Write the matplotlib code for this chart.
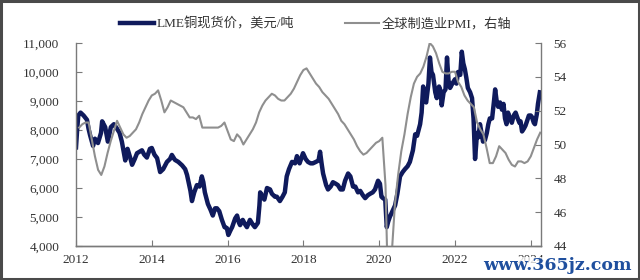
import matplotlib
matplotlib.use("Agg")
import matplotlib.pyplot as plt
from matplotlib.patches import Rectangle

# ---------------- data ----------------
copper_dates = [
    2012.00, 2012.03, 2012.06, 2012.12, 2012.20, 2012.29, 2012.33, 2012.37, 2012.45, 2012.50,
    2012.58, 2012.66, 2012.69, 2012.77, 2012.84, 2012.92, 2013.00, 2013.08, 2013.15, 2013.21,
    2013.30, 2013.36, 2013.44, 2013.48, 2013.55, 2013.61, 2013.74, 2013.80, 2013.87, 2013.95,
    2014.00, 2014.07, 2014.14, 2014.22, 2014.30, 2014.40, 2014.48, 2014.53, 2014.61, 2014.70,
    2014.80, 2014.88, 2014.93, 2015.02, 2015.06, 2015.12, 2015.19, 2015.26, 2015.32, 2015.36,
    2015.40, 2015.48, 2015.55, 2015.61, 2015.67, 2015.72, 2015.78, 2015.85, 2015.92, 2015.98,
    2016.02, 2016.08, 2016.12, 2016.20, 2016.25, 2016.30, 2016.33, 2016.40, 2016.46, 2016.51,
    2016.59, 2016.66, 2016.72, 2016.80, 2016.84, 2016.86, 2016.92, 2016.97, 2017.04, 2017.12,
    2017.17, 2017.25, 2017.30, 2017.38, 2017.45, 2017.51, 2017.56, 2017.62, 2017.70, 2017.78,
    2017.83, 2017.90, 2017.99, 2018.06, 2018.12, 2018.19, 2018.25, 2018.33, 2018.40, 2018.44,
    2018.48, 2018.52, 2018.60, 2018.65, 2018.72, 2018.78, 2018.85, 2018.91, 2018.98, 2019.04,
    2019.10, 2019.18, 2019.24, 2019.31, 2019.37, 2019.44, 2019.50, 2019.57, 2019.63, 2019.70,
    2019.76, 2019.83, 2019.89, 2019.97, 2020.02, 2020.06, 2020.10, 2020.16, 2020.20, 2020.24,
    2020.28, 2020.35, 2020.42, 2020.48, 2020.55, 2020.62, 2020.68, 2020.75, 2020.81, 2020.89,
    2020.95, 2021.00, 2021.08, 2021.12, 2021.16, 2021.20, 2021.24, 2021.30, 2021.34, 2021.38,
    2021.42, 2021.48, 2021.52, 2021.58, 2021.62, 2021.65, 2021.70, 2021.75, 2021.79, 2021.83,
    2021.87, 2021.93, 2022.00, 2022.04, 2022.08, 2022.14, 2022.18, 2022.22, 2022.26, 2022.30,
    2022.34, 2022.40, 2022.45, 2022.49, 2022.53, 2022.56, 2022.58, 2022.62, 2022.66, 2022.70,
    2022.74, 2022.79, 2022.84, 2022.88, 2022.92, 2022.98, 2023.03, 2023.06, 2023.10, 2023.14,
    2023.19, 2023.24, 2023.28, 2023.32, 2023.36, 2023.40, 2023.45, 2023.50, 2023.55, 2023.60,
    2023.64, 2023.70, 2023.73, 2023.77, 2023.82, 2023.86, 2023.90, 2023.95, 2024.00, 2024.03,
    2024.08, 2024.11, 2024.16, 2024.19, 2024.24,
]
copper_values = [
    7400, 8000, 8500, 8600, 8500, 8350, 8050, 7830, 7450, 7700,
    7550, 7900, 8300, 8100, 7600, 8100, 8200, 8050, 7900, 7600,
    6950, 7350, 7000, 6800, 7000, 7200, 7300, 7150, 7050, 7350,
    7380, 7150, 7030, 6550, 6650, 6900, 7000, 7140, 6970, 6900,
    6780, 6650, 6450, 5900, 5550, 5850, 6100, 6050, 6400, 6200,
    5850, 5450, 5250, 5050, 5300, 5300, 5200, 4900, 4650, 4620,
    4380, 4550, 4650, 4950, 5050, 4800, 4720, 4900, 4750, 4650,
    4900, 4750, 4650, 4800, 5400, 5850, 5700, 5600, 6000, 5950,
    5800, 5700, 5700, 5550, 5700, 5850, 6400, 6650, 6900, 6850,
    7100, 6850, 7200, 7000, 6900, 6850, 6850, 6900, 6950, 7250,
    6850, 6500, 6100, 5950, 6050, 6200, 6150, 6100, 5950, 5950,
    6250, 6500, 6400, 6050, 6050, 5850, 5900, 5750, 5650, 5750,
    5800, 5850, 5950, 6250, 6150, 5700, 5650, 5600, 4650, 4850,
    5000, 5200, 5400, 5800, 6400, 6550, 6650, 6750, 6900, 7300,
    7850, 7800, 8200, 8600, 9500, 9000, 8950, 9600, 10500, 10000,
    9900, 9300, 9100, 9500, 9350, 8850, 9300, 9400, 10500, 9700,
    9450, 9600, 9750, 9600, 10000, 9900, 10700, 10300, 10100, 9800,
    9450, 9300, 9100, 8400, 7000, 7500, 7900, 7750, 8200, 7900,
    7600, 7650, 7900, 8200, 8400, 8400, 9000, 9400, 9000, 8800,
    8950, 8700, 8900, 8400, 8200, 8600, 8400, 8250, 8500, 8600,
    8450, 8250, 8300, 7950, 8050, 8150, 8300, 8500, 8500, 8450,
    8250, 8200, 8550, 8900, 9300,
]

# Global manufacturing PMI, monthly, Jan 2012 - Mar 2024
pmi_start_year = 2012
pmi_values = [
    51.0, 51.2, 51.3, 51.3, 50.3, 49.3, 48.5, 48.2, 48.7, 49.5, 50.2, 50.8,   # 2012
    51.4, 51.0, 50.6, 50.4, 50.5, 50.7, 50.9, 51.3, 51.8, 52.2, 52.6, 52.9,   # 2013
    53.0, 53.2, 52.6, 51.9, 52.2, 52.6, 52.5, 52.4, 52.3, 52.2, 51.9, 51.6,   # 2014
    51.6, 51.5, 51.7, 51.0, 51.0, 51.0, 51.0, 51.0, 51.0, 51.1, 51.3, 50.8,   # 2015
    50.3, 50.2, 50.6, 50.4, 50.0, 50.3, 50.6, 50.9, 51.3, 51.9, 52.3, 52.6,   # 2016
    52.8, 53.0, 52.9, 52.7, 52.6, 52.6, 52.8, 53.0, 53.3, 53.7, 54.1, 54.4,   # 2017
    54.5, 54.2, 53.9, 53.6, 53.4, 53.1, 52.9, 52.7, 52.4, 52.1, 51.8, 51.4,   # 2018
    51.2, 50.9, 50.6, 50.3, 49.9, 49.6, 49.4, 49.5, 49.7, 49.9, 50.1, 50.2,   # 2019
    50.4, 47.6, 39.8, 43.6, 46.5, 48.2, 49.6, 50.6, 51.8, 52.8, 53.6, 54.0,   # 2020
    54.2, 54.6, 55.2, 56.0, 55.8, 55.4, 54.8, 54.3, 54.2, 54.2, 54.3, 54.3,   # 2021
    53.7, 53.4, 52.9, 52.6, 52.4, 52.2, 51.3, 50.9, 50.6, 49.8, 48.9, 48.9,   # 2022
    49.3, 49.9, 49.7, 49.5, 49.1, 48.8, 48.7, 49.0, 49.0, 48.9, 49.0, 49.3,   # 2023
    49.8, 50.3, 50.7,                                                         # 2024
]
pmi_dates = [pmi_start_year + (i + 1) / 12 for i in range(len(pmi_values))]

left_ticks = [4000, 5000, 6000, 7000, 8000, 9000, 10000, 11000]
right_ticks = [44, 46, 48, 50, 52, 54, 56]
year_ticks = [2012, 2014, 2016, 2018, 2020, 2022, 2024]

copper_label = "LME铜现货价，美元/吨"
pmi_label = "全球制造业PMI，右轴"

# ---------------- style ----------------
serif = ["Liberation Serif", "Noto Sans CJK SC", "DejaVu Sans"]
plt.rcParams["font.family"] = serif
navy = "#0f1a5c"
grey = "#8f8f8f"
axis_col = "#7a7a7a"
txt_col = "#333333"

fig = plt.figure(figsize=(6.4, 2.8), dpi=100)
fig.patch.set_facecolor("white")
ax = fig.add_axes([76 / 640, 34 / 280, 465 / 640, 203 / 280])
ax2 = ax.twinx()

ax.plot(copper_dates, copper_values, color=navy, lw=3.2, solid_joinstyle="round",
        label=copper_label)
ax2.plot(pmi_dates, pmi_values, color=grey, lw=1.5, label=pmi_label)

ax.set_xlim(2012, 2024.27)
ax.set_ylim(4000, 11000)
ax2.set_ylim(44, 56)

ax.set_xticks(year_ticks)
ax.set_xticklabels([str(y) for y in year_ticks])
ax.set_yticks(left_ticks)
ax.set_yticklabels([f"{v:,}" for v in left_ticks])
ax2.set_yticks(right_ticks)
ax2.set_yticklabels([str(v) for v in right_ticks])

for a in (ax, ax2):
    a.set_facecolor("none")
    a.spines["top"].set_visible(False)
    for s in a.spines.values():
        s.set_color(axis_col)
        s.set_linewidth(1.0)
    a.tick_params(direction="in", length=4, color=axis_col, labelcolor=txt_col,
                  labelsize=9.5)
ax.spines["right"].set_visible(False)
ax2.spines["left"].set_visible(False)
ax.tick_params(axis="y", pad=12)
ax.tick_params(axis="x", pad=6)
ax2.tick_params(axis="y", pad=9)
ax.patch.set_visible(False)

# legend (two separate entries at top)
h1, l1 = ax.get_legend_handles_labels()
h2, l2 = ax2.get_legend_handles_labels()
fig.legend(h1, l1, loc="center left", bbox_to_anchor=(108 / 640, 1 - 24 / 280),
           frameon=False, fontsize=9.5, handlelength=2.6, handletextpad=0.2,
           labelcolor=txt_col)
fig.legend(h2, l2, loc="center left", bbox_to_anchor=(333 / 640, 1 - 24 / 280),
           frameon=False, fontsize=9.5, handlelength=2.6, handletextpad=0.2,
           labelcolor=txt_col)

# watermark
fig.text(632 / 640, 1 - 266 / 280, "www.365jz.com", ha="right", va="center",
         fontsize=12.5, color="#1f4f9e", family=["DejaVu Serif"], fontweight="bold",
         bbox=dict(facecolor="white", edgecolor="none", alpha=0.75, pad=0.5))

# outer frame
fig.add_artist(Rectangle((0.0015, 0.003), 0.997, 0.994, transform=fig.transFigure,
                         fill=False, edgecolor="#4a4a4a", linewidth=2.2))

fig.savefig("out.png", dpi=100, facecolor="white")
